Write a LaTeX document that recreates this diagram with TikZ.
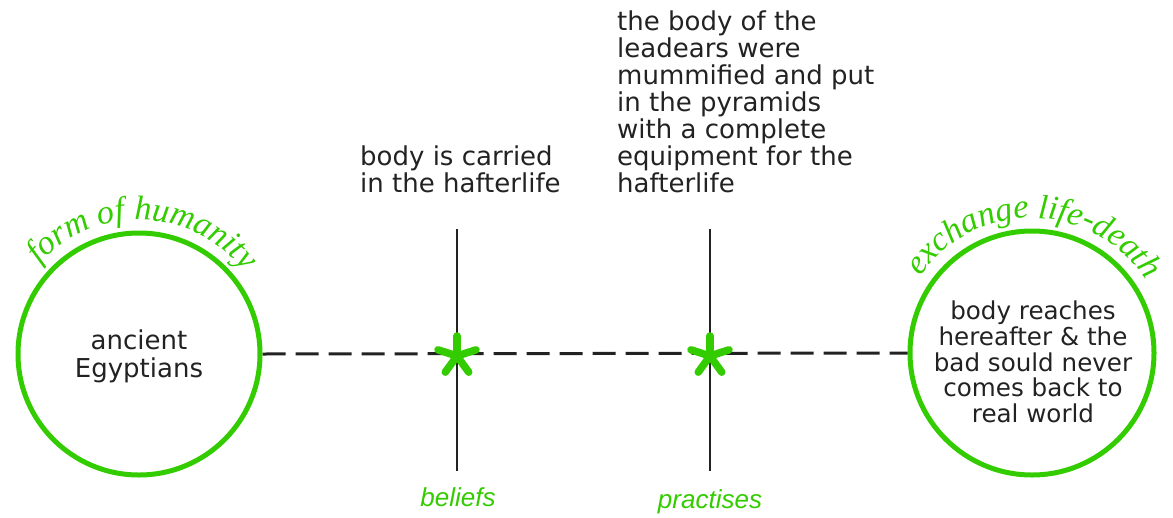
\documentclass[tikz,border=0pt]{standalone}
\usepackage{fontspec}
\setmainfont{DejaVu Sans}
\newfontfamily\labfont{Liberation Sans}
\newfontfamily\arcfont{Liberation Serif}
\usetikzlibrary{decorations.text}
\definecolor{grn}{HTML}{33CC00}
\definecolor{ink}{HTML}{222222}
\tikzset{
  ring/.style={circle, draw=grn, line width=5pt, inner sep=0pt},
  body/.style={text=ink, align=left, inner sep=0pt, font=\fontsize{26}{27}\selectfont},
  ctext/.style={text=ink, align=center, inner sep=0pt},
  axis/.style={draw=ink, line width=2.6pt},
  dline/.style={draw=ink, line width=3pt, dash pattern=on 23pt off 10pt},
  lab/.style={text=grn, inner sep=0pt, font=\labfont\itshape\fontsize{26}{26}\selectfont},
  spoke/.style={draw=grn, line width=7.5pt, line cap=round},
}
\begin{document}
\begin{tikzpicture}[x=1pt,y=-1pt]
\useasboundingbox (0,0) rectangle (1173,517);
% circles
\node[ring, minimum size=242pt] (L) at (139,354) {};
\node[ring, minimum size=244pt] (R) at (1032,353) {};
\node[ctext, font=\fontsize{26}{27.7}\selectfont] (Lt) at (139,356) {ancient\\Egyptians};
\node[ctext, font=\fontsize{24.6}{25.8}\selectfont] (Rt) at (1033,362) {body reaches\\hereafter \& the\\bad sould never\\comes back to\\real world};
% curved labels
\begingroup
\arcfont\itshape\fontsize{34}{34}\selectfont
\path[decorate, decoration={text along path, text align=center,
  text={|\color{grn}|form of humanity}}]
  (L.center) ++(-148:134) arc (-148:-28:134);
\path[decorate, decoration={text along path, text align=center,
  text={|\color{grn}|exchange life-death}}]
  (R.center) ++(-157:135) arc (-157:-21:135);
\endgroup
% axes
\coordinate (b1) at (457,229);
\coordinate (b2) at (457,471);
\coordinate (p1) at (710,229);
\coordinate (p2) at (710,471);
\draw[axis] (b1) -- (b2);
\draw[axis] (p1) -- (p2);
\draw[dline] (L.east) -- (R.west);
% asterisks
\coordinate (s1) at (457,356);
\coordinate (s2) at (710,356);
\foreach \c in {s1,s2}{
  \foreach \a in {-90,-18,-162,54,126}{
    \draw[spoke] (\c) -- ++(\a:20);
  }
}
% texts
\node[body, anchor=north west] (t1) at (360,146) {body is carried\\in the hafterlife};
\node[body, anchor=north west] (t2) at (617,11) {the body of the\\leadears were\\mummified and put\\in the pyramids\\with a complete\\equipment for the\\hafterlife};
\node[lab, anchor=base] (bl) at (458,506) {beliefs};
\node[lab, anchor=base] (pl) at (710,508) {practises};
\end{tikzpicture}
\end{document}
